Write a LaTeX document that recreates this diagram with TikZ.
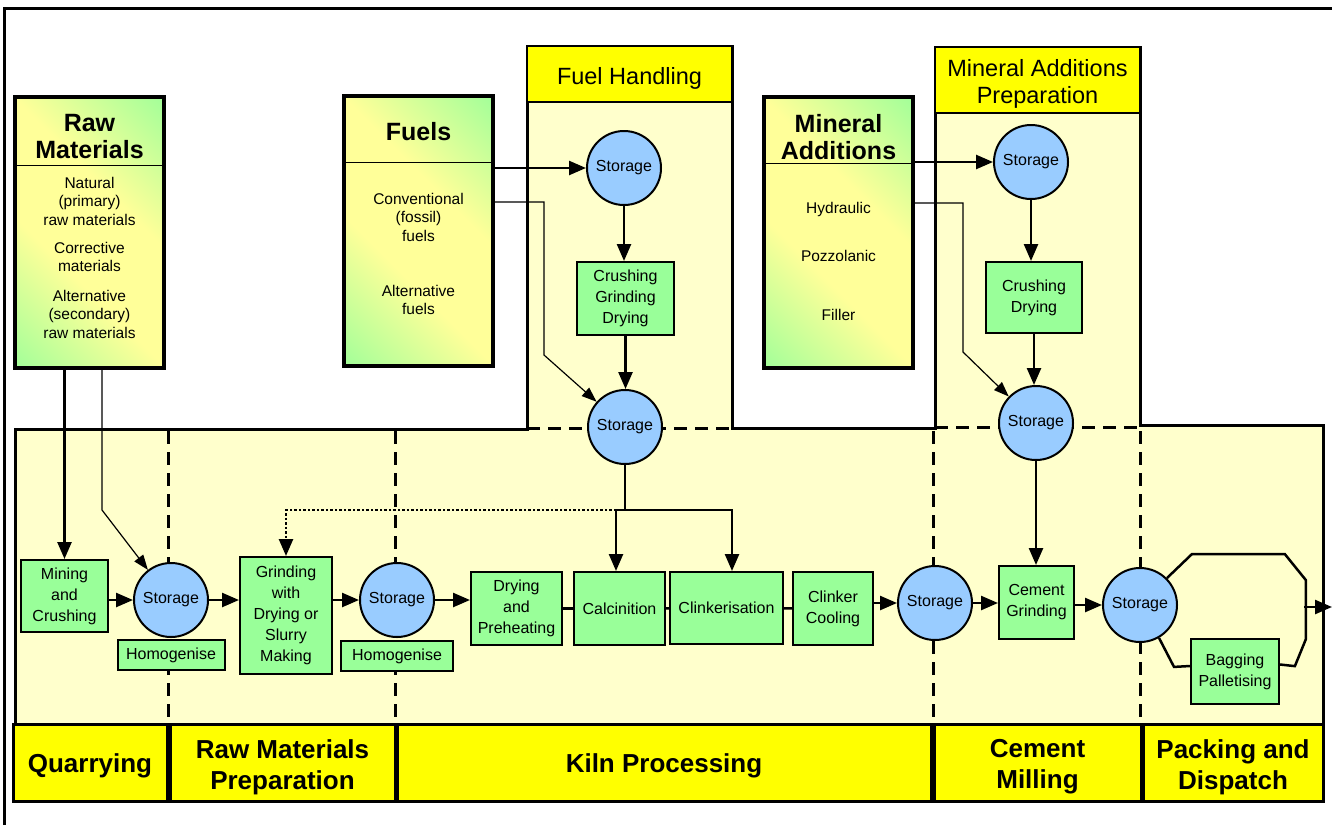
\documentclass[tikz,border=0pt]{standalone}
\usepackage{fontspec}
\setmainfont{Liberation Sans}
\usetikzlibrary{arrows.meta}
\definecolor{procgreen}{HTML}{99FF99}
\definecolor{storeblue}{HTML}{99CCFF}
\definecolor{plantyellow}{HTML}{FFFFCC}
\definecolor{headyellow}{HTML}{FFFF00}
\definecolor{srcyellow}{HTML}{FFFF99}
\pgfdeclarehorizontalshading{srcshade}{100bp}{color(0bp)=(procgreen); color(12bp)=(procgreen); color(40bp)=(srcyellow); color(60bp)=(srcyellow); color(88bp)=(procgreen); color(100bp)=(procgreen)}
\newcommand{\txtsize}{\fontsize{16}{21}\selectfont}
\newcommand{\bigbold}{\bfseries\fontsize{25}{27}\selectfont}

\begin{document}
\begin{tikzpicture}[x=1pt,y=-1pt,
  proc/.style={draw,line width=2pt,fill=procgreen,align=center,inner sep=0pt,font=\txtsize},
  store/.style={circle,draw,line width=2pt,fill=storeblue,minimum size=74pt,inner sep=0pt,font=\txtsize},
  src/.style={draw,line width=3.5pt,shading=srcshade,shading angle=45,inner sep=0pt},
  srctitle/.style={align=center,inner sep=0pt,font=\bigbold},
  srcitem/.style={align=center,inner sep=0pt,font=\fontsize{15.5}{18.5}\selectfont},
  colhead/.style={draw,line width=2pt,fill=headyellow},
  colheadtext/.style={align=center,inner sep=0pt,font=\fontsize{23.5}{27}\selectfont},
  stagebox/.style={draw,line width=3pt,fill=headyellow},
  stagetext/.style={align=center,inner sep=0pt,font=\bfseries\fontsize{26}{31}\selectfont},
  zone/.style={line width=3pt,dash pattern=on 13pt off 8pt},
  flow/.style={line width=2.5pt,-{Triangle[length=17pt,width=14pt]}},
  feed/.style={line width=1.2pt,-{Triangle[length=15pt,width=11pt]}},
  recycle/.style={line width=2.5pt,dash pattern=on 2.5pt off 2pt,-{Triangle[length=17pt,width=14pt]}},
  link/.style={line width=2.5pt}]
\useasboundingbox (0,0) rectangle (1332,825);
\draw[line width=3pt] (4,825) -- (4,8) -- (1332,8);

% plant area with the two preparation columns
\draw[line width=3pt,fill=plantyellow] (15,429) -- (527,429) -- (527,46) -- (732,46) -- (732,428)
  -- (935,428) -- (935,47) -- (1140,47) -- (1140,425) -- (1323,425) -- (1323,724) -- (15,724) -- cycle;
\draw[colhead] (527,46) rectangle (732,102);
\node[colheadtext] (fuelhead) at (629.5,78) {Fuel Handling};
\draw[colhead] (935,47) rectangle (1140,113);
\node[colheadtext] (minhead) at (1037.5,84) {Mineral Additions\\Preparation};

% zone borders
\foreach \x in {168,395,933,1140}
  \draw[zone] (\x,431) -- (\x,724);
\draw[zone] (527,428) -- (732,428);
\draw[zone] (935,427) -- (1140,427);

% input boxes
\node[src,minimum width=149pt,minimum height=271pt] (raw) at (89.5,232.5) {};
\draw[line width=1pt] (15,165) -- (164,165);
\node[srctitle] (rawtitle) at (89.5,137) {Raw\\Materials};
\node[srcitem] (rawnat) at (89.5,201) {Natural\\(primary)\\raw materials};
\node[srcitem] (rawcor) at (89.5,257) {Corrective\\materials};
\node[srcitem] (rawalt) at (89.5,314) {Alternative\\(secondary)\\raw materials};

\node[src,minimum width=149pt,minimum height=270pt] (fuels) at (418.5,231) {};
\draw[line width=1pt] (344,162) -- (493,162);
\node[srctitle] (fueltitle) at (418.5,132) {Fuels};
\node[srcitem] (fuelconv) at (418.5,217) {Conventional\\(fossil)\\fuels};
\node[srcitem] (fuelalt) at (418.5,300) {Alternative\\fuels};

\node[src,minimum width=149pt,minimum height=271pt] (madd) at (838.5,232.5) {};
\draw[line width=1pt] (764,163) -- (913,163);
\node[srctitle] (maddtitle) at (838.5,137) {Mineral\\Additions};
\node[srcitem] (maddhyd) at (838.5,209) {Hydraulic};
\node[srcitem] (maddpoz) at (838.5,256) {Pozzolanic};
\node[srcitem] (maddfil) at (838.5,315) {Filler};

% fuel and mineral preparation
\node[store] (fst1) at (624,168) {Storage};
\node[proc,minimum width=97pt,minimum height=73pt] (fcrush) at (625.5,298.5) {Crushing\\Grinding\\Drying};
\node[store] (fst2) at (625,427) {Storage};
\node[store] (mst1) at (1031,162) {Storage};
\node[proc,minimum width=96pt,minimum height=71pt] (mcrush) at (1034,297.5) {Crushing\\Drying};
\node[store] (mst2) at (1036,423) {Storage};

% main line
\node[proc,minimum width=87pt,minimum height=72pt] (mine) at (64.5,596) {Mining\\and\\Crushing};
\node[store] (st1) at (171,600) {Storage};
\node[proc,minimum width=107pt,minimum height=30pt] (homo1) at (171,655) {Homogenise};
\node[proc,minimum width=92pt,minimum height=117pt] (grind) at (286,615.5) {Grinding\\with\\Drying or\\Slurry\\Making};
\node[store] (st2) at (397,600) {Storage};
\node[proc,minimum width=112pt,minimum height=30pt] (homo2) at (397,656) {Homogenise};
\node[proc,minimum width=91pt,minimum height=73pt] (dry) at (516.5,608.5) {Drying\\and\\Preheating};
\node[proc,minimum width=91pt,minimum height=73pt] (calc) at (619.5,608.5) {Calcinition};
\node[proc,minimum width=113pt,minimum height=72pt] (clink) at (726.5,608) {Clinkerisation};
\node[proc,minimum width=80pt,minimum height=73pt] (cool) at (833,608.5) {Clinker\\Cooling};
\node[store] (st3) at (935,603) {Storage};
\node[proc,minimum width=75pt,minimum height=73pt] (cgrind) at (1036.5,602.5) {Cement\\Grinding};
\node[store] (st4) at (1140,605) {Storage};
\node[proc,minimum width=88pt,minimum height=65pt] (bag) at (1235,671.5) {Bagging\\Palletising};

% bends
\coordinate (rawdrop) at (102,510);
\coordinate (fbend1) at (544,202);
\coordinate (fbend2) at (544,355);
\coordinate (mbend1) at (963,203);
\coordinate (mbend2) at (963,352);
\coordinate (kleft) at (616,510);
\coordinate (kright) at (732,510);
\coordinate (dispatch) at (1332,607);

% connectors
\draw[flow] (raw.south -| mine.north) -- (mine.north);
\draw[feed] (raw.south -| rawdrop) -- (rawdrop) -- (st1);
\draw[flow] (fuels.east |- fst1) -- (fst1);
\draw[feed] (fuels.east |- fbend1) -- (fbend1) -- (fbend2) -- (fst2);
\draw[flow] (fst1.south) -- (fst1.south |- fcrush.north);
\draw[flow] (fcrush.south) -- (fcrush.south |- fst2.north);
\draw[flow] (madd.east |- mst1) -- (mst1);
\draw[feed] (madd.east |- mbend1) -- (mbend1) -- (mbend2) -- (mst2);
\draw[flow] (mst1.south) -- (mst1.south |- mcrush.north);
\draw[flow] (mcrush.south) -- (mcrush.south |- mst2.north);

\draw[flow] (fst2.south) |- (kleft) -- (kleft |- calc.north);
\draw[flow] (fst2.south |- kright) -- (kright) -- (kright |- clink.north);
\draw[recycle] (kleft) -| (grind.north);

\draw[flow] (mine.east |- st1) -- (st1);
\draw[flow] (st1) -- (st1 -| grind.west);
\draw[flow] (grind.east |- st2) -- (st2);
\draw[flow] (st2) -- (st2 -| dry.west);
\draw[link] (dry) -- (calc);
\draw[link] (calc) -- (clink);
\draw[link] (clink) -- (cool);
\draw[flow] (cool.east |- st3) -- (st3);
\draw[flow] (st3) -- (st3 -| cgrind.west);
\draw[flow] (cgrind.east |- st4) -- (st4);
\draw[flow] (mst2.south) -- (mst2.south |- cgrind.north);

% dispatch loop
\draw[link] (st4.45) -- ++(25,-24) -- ++(93,0) -- ++(21,26) -- ++(0,59) -- ++(-11,27) -- ([yshift=7pt]bag.east);
\draw[link] (st4.-60) -- ++(15,29) -- ([yshift=5.5pt]bag.west);
\draw[flow] (dispatch -| 1304,0) -- (dispatch);

% process stages
\draw[stagebox] (13,724) rectangle (167,801);
\node[stagetext] (quarry) at (90,766) {Quarrying};
\draw[stagebox] (170,724) rectangle (395,801);
\node[stagetext] (rmprep) at (282.5,767) {Raw Materials\\Preparation};
\draw[stagebox] (397,724) rectangle (931,801);
\node[stagetext] (kiln) at (664,766) {Kiln Processing};
\draw[stagebox] (934,724) rectangle (1141,801);
\node[stagetext] (cmill) at (1037.5,767) {Cement\\Milling};
\draw[stagebox] (1143,724) rectangle (1323,801);
\node[stagetext] (pack) at (1233,767) {Packing and\\Dispatch};
\end{tikzpicture}
\end{document}
